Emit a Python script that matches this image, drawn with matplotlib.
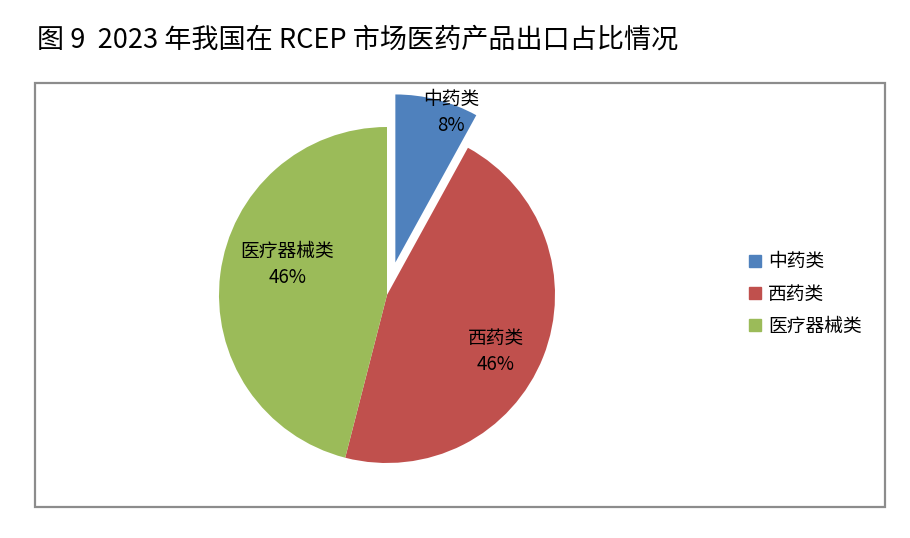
#!/usr/bin/env python3
# Pie chart: share of China's pharma exports to RCEP markets, 2023

import numpy as np
import matplotlib
matplotlib.use("Agg")
import matplotlib.pyplot as plt
from matplotlib.patches import Rectangle
from matplotlib.lines import Line2D

plt.rcParams['font.family'] = ['Noto Sans CJK SC', 'DejaVu Sans']

# Data
TITLE = "图 9  2023 年我国在 RCEP 市场医药产品出口占比情况"
categories = ["中药类", "西药类", "医疗器械类"]
shares = [8, 46, 46]
colors = ["#4F81BD", "#C0504D", "#9BBB59"]
explode = [0.2, 0, 0]

# label placement (fraction of radius, angle tweak in degrees)
label_r = [0.95, 0.73, 0.62]
label_dang = [-6, -6, -10]

W, H = 910, 538
fig = plt.figure(figsize=(W / 100, H / 100), dpi=100)

# title and chart frame
fig.text(37 / W, 1 - 40 / H, TITLE, fontsize=19.5, ha='left', va='center')
fig.patches.append(Rectangle((35 / W, 1 - 507 / H), 850 / W, 424 / H,
                             transform=fig.transFigure, fill=False,
                             edgecolor='#8c8c8c', linewidth=1.6))

# pie axes: centre (387, 295) px, radius 168 px
R = 168
cx, cy = 387, 295
span = 1.3
half = span * R
ax = fig.add_axes([(cx - half) / W, (H - cy - half) / H, 2 * half / W, 2 * half / H])

wedges, _ = ax.pie(shares, colors=colors, explode=explode, startangle=90,
                   counterclock=False, radius=1.0,
                   wedgeprops=dict(edgecolor='white', linewidth=0))
ax.set_xlim(-span, span)
ax.set_ylim(-span, span)
ax.set_aspect('equal')
ax.axis('off')

for w, name, val, r, da in zip(wedges, categories, shares, label_r, label_dang):
    mid = np.deg2rad((w.theta1 + w.theta2) / 2 + da)
    x0, y0 = w.center
    ax.text(x0 + r * np.cos(mid), y0 + r * np.sin(mid), f"{name}\n{val}%",
            ha='center', va='center', fontsize=13.5, linespacing=1.3)

# legend
handles = [Line2D([], [], marker='s', linestyle='none', markersize=8,
                  markerfacecolor=c, markeredgecolor=c) for c in colors]
fig.legend(handles, categories, loc='center left',
           bbox_to_anchor=(736 / W, 1 - 294 / H), frameon=False,
           fontsize=13.5, handletextpad=0.2, labelspacing=0.6,
           handlelength=1.0, borderpad=0)

fig.savefig("out.png", dpi=100)
